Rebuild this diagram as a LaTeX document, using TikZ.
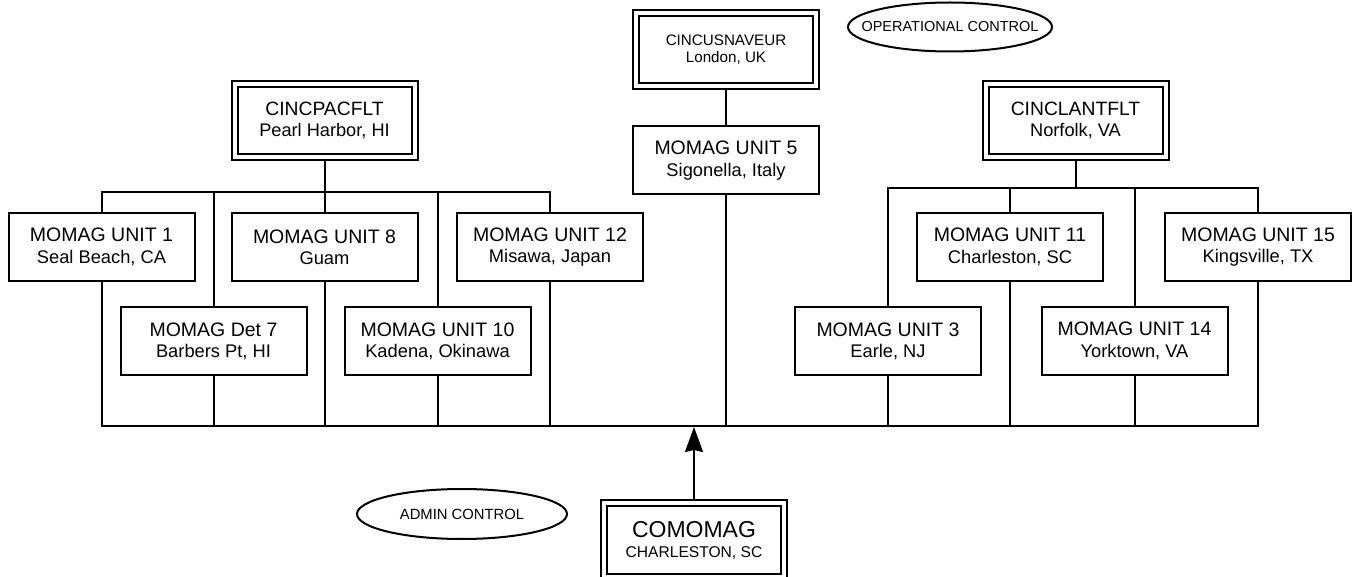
\documentclass[tikz,border=0pt]{standalone}
\usepackage{fontspec}
\setmainfont{Liberation Sans}
\usetikzlibrary{arrows.meta,shapes.geometric}
\newcommand\secline[1]{{\fontsize{18.3}{21.3}\selectfont #1}}
\begin{document}
\begin{tikzpicture}[x=1pt,y=-1pt,line width=2pt,
  unit/.style={draw,fill=white,minimum width=186pt,minimum height=68pt,inner sep=0pt,
    align=center,font=\fontsize{19.5}{21.3}\selectfont},
  cinc/.style={draw,double,double distance=4pt,fill=white,minimum width=180pt,
    minimum height=73pt,inner sep=0pt,outer sep=4pt,align=center},
  ctrl/.style={draw,ellipse,inner sep=0pt},
  ctrltext/.style={inner sep=0pt,font=\fontsize{14.5}{17}\selectfont},
  conn/.style={line width=2pt,line join=miter},
  ]
\useasboundingbox (0,0) rectangle (1353,577);

% commanders
\node[cinc,font=\fontsize{19.3}{20.5}\selectfont] (pac) at (324.5,120.5)
  {CINCPACFLT\\{\fontsize{18.2}{20.5}\selectfont Pearl Harbor, HI}};
\node[cinc,font=\fontsize{15.2}{17}\selectfont] (eur) at (726,49.5)
  {CINCUSNAVEUR\\London, UK};
\node[cinc,font=\fontsize{19.3}{20.5}\selectfont] (lant) at (1075.5,120.5)
  {CINCLANTFLT\\{\fontsize{18.2}{20.5}\selectfont Norfolk, VA}};
\node[cinc,minimum height=74pt,font=\fontsize{23}{20}\selectfont] (como) at (694,540)
  {COMOMAG\\{\fontsize{15.6}{20}\selectfont CHARLESTON, SC}};

% units
\node[unit] (u5)  at (726,160.5)   {MOMAG UNIT 5\\\secline{Sigonella, Italy}};
\node[unit] (u1)  at (101.5,247)   {MOMAG UNIT 1\\\secline{Seal Beach, CA}};
\node[unit] (d7)  at (213.5,341.5) {MOMAG Det 7\\\secline{Barbers Pt, HI}};
\node[unit] (u8)  at (324.5,247)   {MOMAG UNIT 8\\\secline{Guam}};
\node[unit] (u10) at (437.5,341.5) {MOMAG UNIT 10\\\secline{Kadena, Okinawa}};
\node[unit] (u12) at (550,247)     {MOMAG UNIT 12\\\secline{Misawa, Japan}};
\node[unit] (u3)  at (888,341.5)   {MOMAG UNIT 3\\\secline{Earle, NJ}};
\node[unit] (u11) at (1010,247)    {MOMAG UNIT 11\\\secline{Charleston, SC}};
\node[unit] (u14) at (1134.5,341)  {MOMAG UNIT 14\\\secline{Yorktown, VA}};
\node[unit] (u15) at (1258,247)    {MOMAG UNIT 15\\\secline{Kingsville, TX}};

% control labels
\node[ctrl,minimum width=204pt,minimum height=49pt] (op) at (950,27) {};
\node[ctrltext] (optext) at (op.center) {OPERATIONAL CONTROL};
\node[ctrl,minimum width=210pt,minimum height=50pt] (admin) at (462,514) {};
\node[ctrltext,font=\fontsize{14.8}{17}\selectfont] (admintext) at (admin.center) {ADMIN CONTROL};

% bus levels
\coordinate (tl) at (0,192);
\coordinate (tr) at (0,188);
\coordinate (bb) at (0,426);
\coordinate (bbtip) at (0,427);

% Pacific group
\draw[conn] (pac.south) -- (pac.south |- tl);
\draw[conn] (u1.north) -- (u1.north |- tl) -- (u12.north |- tl) -- (u12.north);
\draw[conn] (d7.north |- tl) -- (d7.north);
\draw[conn] (u8.north |- tl) -- (u8.north);
\draw[conn] (u10.north |- tl) -- (u10.north);

% Atlantic group
\draw[conn] (lant.south) -- (lant.south |- tr);
\draw[conn] (u3.north) -- (u3.north |- tr) -- (u15.north |- tr) -- (u15.north);
\draw[conn] (u11.north |- tr) -- (u11.north);
\draw[conn] (u14.north |- tr) -- (u14.north);

% Europe
\draw[conn] (eur.south) -- (u5.north);

% bottom bus
\draw[conn] (u1.south) -- (u1.south |- bb) -- (u15.south |- bb) -- (u15.south);
\foreach \n in {d7,u8,u10,u12,u5,u3,u11,u14}
  \draw[conn] (\n.south) -- (\n.south |- bb);

% admin arrow
\draw[conn,-{Stealth[length=25pt,width=18pt,inset=2pt]}] (como.north) -- (como.north |- bbtip);
\end{tikzpicture}
\end{document}
